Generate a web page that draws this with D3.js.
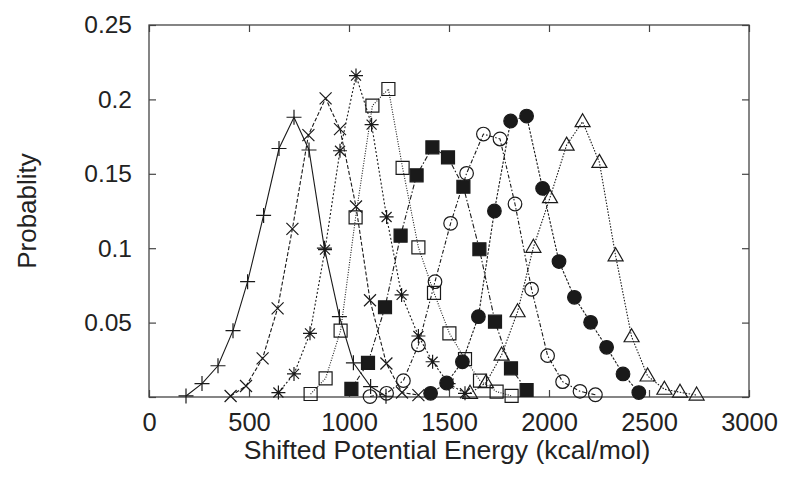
<!DOCTYPE html>
<html>
<head>
<meta charset="utf-8">
<script src="https://cdn.jsdelivr.net/npm/d3@7"></script>
<style>
  html, body { margin: 0; padding: 0; background: #fff; }
  svg { display: block; }
  text { font-family: "Liberation Sans", Arial, Helvetica, sans-serif; fill: #222; }
</style>
</head>
<body>
<svg id="chart" width="787" height="479"></svg>
<script>
// ---- data ----
const xTickValues = [0, 500, 1000, 1500, 2000, 2500, 3000];
const xTickLabels = ["0", "500", "1000", "1500", "2000", "2500", "3000"];
const yTickValues = [0, 0.05, 0.1, 0.15, 0.2, 0.25];
const yTickLabels = ["", "0.05", "0.1", "0.15", "0.2", "0.25"];
const xLabel = "Shifted Potential Energy (kcal/mol)";
const yLabel = "Probablity";

const plusX   = [185, 265, 345, 420, 493, 573, 650, 725, 800, 877, 952, 1022, 1108, 1185];
const plusY   = [0.0007, 0.009, 0.021, 0.0446, 0.0775, 0.122, 0.167, 0.188, 0.166, 0.100, 0.054, 0.023, 0.007, 0.0005];
const crossX  = [408, 485, 568, 643, 717, 797, 883, 955, 1035, 1105, 1187, 1265, 1347];
const crossY  = [0.0007, 0.0074, 0.026, 0.0596, 0.113, 0.176, 0.2007, 0.18, 0.128, 0.065, 0.0225, 0.003, 0.0013];
const starX   = [647, 725, 805, 880, 955, 1035, 1113, 1188, 1263, 1347, 1418, 1498, 1580];
const starY   = [0.003, 0.0155, 0.0428, 0.099, 0.1655, 0.216, 0.183, 0.121, 0.0686, 0.041, 0.0237, 0.009, 0.0025];
const oSquareX = [808, 883, 958, 1033, 1117, 1197, 1268, 1347, 1425, 1502, 1580, 1655, 1738, 1813];
const oSquareY = [0.002, 0.0125, 0.0446, 0.1207, 0.1958, 0.207, 0.154, 0.1006, 0.070, 0.0428, 0.0255, 0.011, 0.0036, 0.0007];
const fSquareX = [1012, 1095, 1180, 1258, 1338, 1417, 1495, 1572, 1652, 1730, 1810, 1888];
const fSquareY = [0.0055, 0.023, 0.0603, 0.1084, 0.149, 0.1678, 0.161, 0.1413, 0.0993, 0.0506, 0.0193, 0.0047];
const oCircleX = [1105, 1188, 1272, 1347, 1430, 1508, 1588, 1672, 1755, 1830, 1913, 1993, 2068, 2155, 2232];
const oCircleY = [0.0003, 0.0025, 0.011, 0.035, 0.0775, 0.1167, 0.1503, 0.1767, 0.1734, 0.1297, 0.0724, 0.0278, 0.0103, 0.0038, 0.0015];
const fCircleX = [1408, 1488, 1567, 1647, 1727, 1808, 1888, 1968, 2050, 2127, 2208, 2288, 2370, 2449];
const fCircleY = [0.0025, 0.0094, 0.0237, 0.054, 0.125, 0.1855, 0.1888, 0.1402, 0.091, 0.067, 0.0502, 0.0334, 0.0155, 0.003];
const triX    = [1605, 1685, 1763, 1843, 1922, 2005, 2088, 2168, 2252, 2333, 2413, 2493, 2577, 2655, 2738];
const triY    = [0.0025, 0.0096, 0.0282, 0.0573, 0.1006, 0.134, 0.1693, 0.185, 0.1577, 0.0949, 0.0405, 0.0141, 0.0052, 0.0032, 0.0013];

const seriesList = [
  { xs: plusX,    ys: plusY,    marker: "plus",    dash: null },
  { xs: crossX,   ys: crossY,   marker: "cross",   dash: "4,2" },
  { xs: starX,    ys: starY,    marker: "star",    dash: "2,2" },
  { xs: oSquareX, ys: oSquareY, marker: "osquare", dash: "1,1.5" },
  { xs: fSquareX, ys: fSquareY, marker: "fsquare", dash: "5,2,1.5,2" },
  { xs: oCircleX, ys: oCircleY, marker: "ocircle", dash: "4,2,1.5,2" },
  { xs: fCircleX, ys: fCircleY, marker: "fcircle", dash: "2.5,1.5" },
  { xs: triX,     ys: triY,     marker: "otri",    dash: "1.5,1.5" }
];

// ---- layout ----
const W = 787, H = 479;
const margin = { left: 149, top: 25, right: 38, bottom: 82 };
const pw = W - margin.left - margin.right;   // 600
const ph = H - margin.top - margin.bottom;   // 372

const svg = d3.select("#chart");
const g = svg.append("g").attr("transform", `translate(${margin.left},${margin.top})`);

const x = d3.scaleLinear().domain([0, 3000]).range([0, pw]);
const y = d3.scaleLinear().domain([0, 0.25]).range([ph, 0]);

const tickLen = 7;
const axisColor = "#444";

// axes (ticks inward, mirrored)
const xBottom = d3.axisBottom(x).tickValues(xTickValues).tickSize(-tickLen).tickPadding(16)
  .tickFormat((d, i) => xTickLabels[i]);
const xTop = d3.axisTop(x).tickValues(xTickValues).tickSize(-tickLen).tickFormat("");
const yLeft = d3.axisLeft(y).tickValues(yTickValues).tickSize(-tickLen).tickPadding(17)
  .tickFormat((d, i) => yTickLabels[i]);
const yRight = d3.axisRight(y).tickValues(yTickValues).tickSize(-tickLen).tickFormat("");

function styleAxis(sel, fs) {
  sel.select(".domain").remove();
  sel.selectAll(".tick line").attr("stroke", axisColor).attr("stroke-width", 1.2);
  sel.selectAll(".tick text").attr("font-size", fs).attr("fill", "#222")
     .attr("font-family", '"Liberation Sans", Arial, sans-serif');
}
g.append("g").attr("transform", `translate(0,${ph})`).call(xBottom).call(styleAxis, 25.5);
g.append("g").call(xTop).call(styleAxis, 24);
g.append("g").call(yLeft).call(styleAxis, 24.5);
g.append("g").attr("transform", `translate(${pw},0)`).call(yRight).call(styleAxis, 24);

// frame
g.append("rect").attr("x", 0).attr("y", 0).attr("width", pw).attr("height", ph)
  .attr("fill", "none").attr("stroke", axisColor).attr("stroke-width", 1.3);

// lines
const line = d3.line().x(d => x(d[0])).y(d => y(d[1]));
const ink = "#1a1a1a";
seriesList.forEach(s => {
  const pts = s.xs.map((v, i) => [v, s.ys[i]]);
  g.append("path").datum(pts)
    .attr("d", line)
    .attr("fill", "none")
    .attr("stroke", ink)
    .attr("stroke-width", 1.1)
    .attr("stroke-dasharray", s.dash);
});

// markers
function markerPath(type) {
  switch (type) {
    case "plus":  return "M-7.5,0H7.5M0,-7.5V7.5";
    case "cross": return "M-6,-6L6,6M-6,6L6,-6";
    case "star":  return "M-7,0H7M0,-7V7M-5,-5L5,5M-5,5L5,-5";
    case "osquare":
    case "fsquare": return "M-6.5,-6.5H6.5V6.5H-6.5Z";
    case "otri":  return "M0,-8L7.5,5H-7.5Z";
  }
  return "";
}
seriesList.forEach(s => {
  const pts = s.xs.map((v, i) => [v, s.ys[i]]);
  const sel = g.append("g").selectAll("g").data(pts).join("g")
    .attr("transform", d => `translate(${x(d[0])},${y(d[1])})`);
  if (s.marker === "ocircle" || s.marker === "fcircle") {
    sel.append("circle").attr("r", 6.8)
      .attr("fill", s.marker === "fcircle" ? ink : "none")
      .attr("stroke", ink).attr("stroke-width", 1.2);
  } else {
    const filled = s.marker === "fsquare";
    sel.append("path").attr("d", markerPath(s.marker))
      .attr("fill", filled ? ink : "none")
      .attr("stroke", ink).attr("stroke-width", 1.2);
  }
});

// axis labels
svg.append("text")
  .attr("x", margin.left + pw / 2 - 2).attr("y", 459)
  .attr("text-anchor", "middle").attr("font-size", 26.5)
  .text(xLabel);
svg.append("text")
  .attr("transform", `translate(36,${margin.top + ph / 2}) rotate(-90)`)
  .attr("text-anchor", "middle").attr("font-size", 26)
  .text(yLabel);
</script>
</body>
</html>
